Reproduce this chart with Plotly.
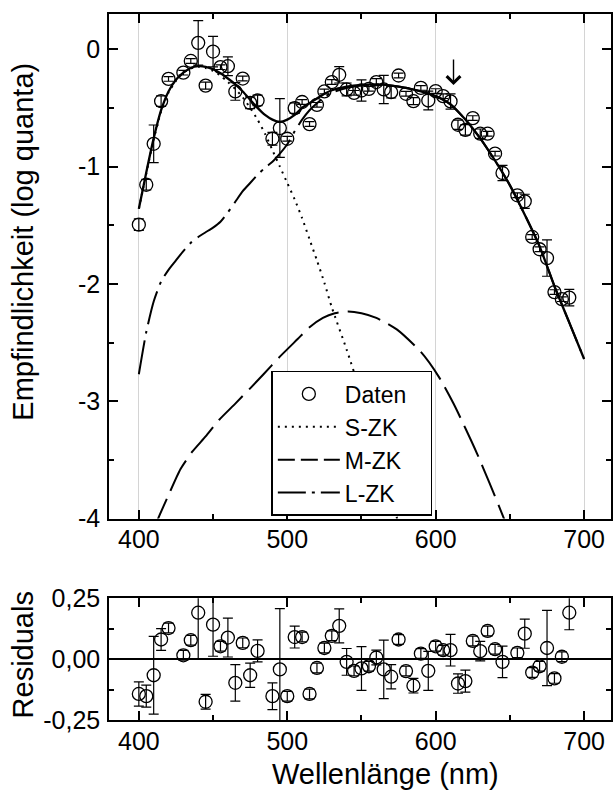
import plotly.graph_objects as go

# ---------------- data ----------------
wl = [400, 405, 410, 415, 420, 430, 435, 440, 445, 450, 455, 460, 465, 470, 475, 480,
      490, 495, 500, 505, 510, 515, 520, 525, 530, 535, 540, 545, 550, 555, 560, 565,
      570, 575, 580, 585, 590, 595, 600, 605, 610, 615, 620, 625, 630, 635, 640, 645,
      655, 660, 665, 670, 675, 680, 685, 690]

sens = [-1.495, -1.155, -0.806, -0.443, -0.253, -0.20, -0.10, 0.054, -0.31, -0.02,
        -0.153, -0.145, -0.36, -0.25, -0.457, -0.437, -0.763, -0.672, -0.763, -0.502,
        -0.45, -0.638, -0.474, -0.36, -0.28, -0.218, -0.343, -0.372, -0.352, -0.338,
        -0.28, -0.343, -0.366, -0.224, -0.38, -0.443, -0.33, -0.437, -0.357, -0.40,
        -0.445, -0.644, -0.687, -0.587, -0.72, -0.72, -0.89, -1.055, -1.245, -1.296,
        -1.60, -1.705, -1.78, -2.07, -2.13, -2.117]

resid = [-0.143, -0.152, -0.066, 0.081, 0.128, 0.016, 0.078, 0.191, -0.175, 0.142,
         0.053, 0.089, -0.097, 0.067, -0.066, 0.034, -0.152, -0.042, -0.152, 0.091,
         0.091, -0.143, -0.036, 0.046, 0.096, 0.137, -0.011, -0.048, -0.038, -0.029,
         0.007, -0.042, -0.072, 0.081, -0.049, -0.109, 0.023, -0.048, 0.053, 0.037,
         0.037, -0.10, -0.09, 0.075, 0.033, 0.116, 0.041, -0.011, 0.026, 0.105,
         -0.055, -0.029, 0.046, -0.079, 0.010, 0.191]

err = [0.05, 0.045, 0.16, 0.045, 0.02, 0.02, 0.02, 0.19, 0.03, 0.13, 0.02, 0.08,
       0.075, 0.02, 0.05, 0.045, 0.055, 0.25, 0.02, 0.045, 0.02, 0.02, 0.02, 0.02,
       0.02, 0.07, 0.055, 0.02, 0.09, 0.02, 0.03, 0.12, 0.05, 0.02, 0.02, 0.03,
       0.02, 0.08, 0.02, 0.02, 0.065, 0.04, 0.045, 0.02, 0.04, 0.02, 0.02, 0.065,
       0.02, 0.06, 0.02, 0.02, 0.155, 0.02, 0.02, 0.07]

# total fit (solid)
fit_x = [400, 405, 410, 415, 420, 425, 430, 435, 440, 445, 450, 455, 460, 465, 470, 475,
         480, 485, 490, 495, 500, 505, 510, 515, 520, 525, 530, 540, 550, 560, 570, 580,
         590, 600, 610, 620, 630, 640, 650, 660, 670, 680, 690, 700]
fit_y = [-1.36, -1.05, -0.76, -0.52, -0.36, -0.26, -0.20, -0.16, -0.145, -0.15, -0.17,
         -0.205, -0.25, -0.30, -0.36, -0.43, -0.50, -0.56, -0.60, -0.62, -0.60, -0.56,
         -0.50, -0.46, -0.42, -0.38, -0.35, -0.32, -0.305, -0.30, -0.31, -0.33, -0.36,
         -0.40, -0.47, -0.60, -0.76, -0.95, -1.16, -1.41, -1.68, -2.02, -2.33, -2.64]

# S-cone component (dotted)
s_x = [400, 405, 410, 415, 420, 425, 430, 435, 440, 445, 450, 455, 460, 465, 470, 475,
       480, 485, 490, 495, 500, 505, 510, 515, 520, 525, 530, 540, 550, 560, 574, 578]
s_y = [-1.36, -1.06, -0.77, -0.53, -0.37, -0.27, -0.20, -0.165, -0.15, -0.16, -0.185,
       -0.225, -0.28, -0.34, -0.41, -0.50, -0.60, -0.72, -0.86, -1.00, -1.14, -1.28,
       -1.44, -1.62, -1.80, -1.99, -2.20, -2.56, -2.95, -3.40, -4.00, -4.15]

# M-cone component (dashed)
m_x = [410, 413, 420, 428, 436, 445, 454, 465, 475, 484, 495, 507, 515, 524, 532, 541,
       550, 560, 574, 590, 602, 612, 620, 628, 636, 646, 649]
m_y = [-4.10, -4.00, -3.80, -3.58, -3.43, -3.30, -3.16, -3.02, -2.89, -2.77, -2.62,
       -2.47, -2.37, -2.29, -2.25, -2.235, -2.25, -2.29, -2.39, -2.58, -2.79, -3.02,
       -3.23, -3.45, -3.69, -4.00, -4.10]

# L-cone component (dash-dot)
l_x = [400, 405, 410, 415, 420, 425, 430, 435, 440, 445, 450, 455, 460, 465, 470, 475,
       480, 485, 490, 495, 500, 505, 510, 515, 520, 525, 530, 540, 550, 560, 570, 580,
       590, 600, 610, 620, 630, 640, 650, 660, 670, 680, 690, 700]
l_y = [-2.77, -2.41, -2.15, -1.98, -1.88, -1.80, -1.72, -1.65, -1.60, -1.56, -1.52,
       -1.47, -1.39, -1.30, -1.21, -1.14, -1.07, -1.01, -0.96, -0.89, -0.81, -0.70,
       -0.60, -0.52, -0.46, -0.41, -0.37, -0.33, -0.31, -0.30, -0.31, -0.33, -0.36,
       -0.40, -0.47, -0.60, -0.76, -0.95, -1.16, -1.41, -1.68, -2.02, -2.33, -2.64]

arrow_x = 612      # wavelength marked by the arrow
arrow_y = -0.306   # arrow tip

x_tickvals = [400, 500, 600, 700]
x_ticktext = ["400", "500", "600", "700"]
y_tickvals = [0, -1, -2, -3, -4]
y_ticktext = ["0", "-1", "-2", "-3", "-4"]
r_tickvals = [-0.25, 0, 0.25]
r_ticktext = ["-0,25", "0,00", "0,25"]

legend_names = ["Daten", "S-ZK", "M-ZK", "L-ZK"]

FONT = "Liberation Sans, Arial, Helvetica, sans-serif"
PAD = "\u00a0\u00a0\u00a0"   # widens the legend box like the reference

# ---------------- figure ----------------
fig = go.Figure()

line_common = dict(color="black", width=2, shape="spline", smoothing=0.6)

fig.add_trace(go.Scatter(x=fit_x, y=fit_y, mode="lines", showlegend=False,
                         line=dict(line_common, width=2.3), hoverinfo="skip"))
fig.add_trace(go.Scatter(x=s_x, y=s_y, mode="lines", name=legend_names[1], legendrank=2,
                         line=dict(line_common, dash="2px,5px")))
fig.add_trace(go.Scatter(x=m_x, y=m_y, mode="lines", showlegend=False,
                         line=dict(line_common, dash="34px,9px")))
fig.add_trace(go.Scatter(x=l_x, y=l_y, mode="lines", showlegend=False,
                         line=dict(line_common, dash="34px,7px,3px,7px")))

marker_style = dict(symbol="circle-open", size=13, color="black", line=dict(width=1.3))
err_style = dict(thickness=1.2, width=5, color="black")

fig.add_trace(go.Scatter(x=wl, y=sens, mode="markers", name=legend_names[0] + PAD,
                         legendrank=1, marker=marker_style,
                         error_y=dict(type="data", array=err, visible=True, **err_style)))

fig.add_trace(go.Scatter(x=wl, y=resid, mode="markers", showlegend=False,
                         xaxis="x2", yaxis="y2", marker=marker_style,
                         error_y=dict(type="data", array=err, visible=True, **err_style)))

# legend-only samples with shorter dash patterns
fig.add_trace(go.Scatter(x=[None], y=[None], mode="lines", name=legend_names[2], legendrank=3,
                         line=dict(color="black", width=2, dash="17px,6px")))
fig.add_trace(go.Scatter(x=[None], y=[None], mode="lines", name=legend_names[3], legendrank=4,
                         line=dict(color="black", width=2, dash="28px,6px,3px,6px")))

axis_common = dict(showline=True, linecolor="black", linewidth=1.5, mirror="ticks",
                   ticks="inside", tickcolor="black", tickwidth=1.5, ticklen=9,
                   tickfont=dict(family=FONT, size=25, color="black"), zeroline=False)

fig.update_layout(
    width=613, height=791, autosize=False,
    margin=dict(l=109, r=0, t=12, b=71),
    paper_bgcolor="white", plot_bgcolor="white",
    font=dict(family=FONT, color="black"),
    xaxis=dict(axis_common, anchor="y", range=[379.9, 718.1], tickmode="array",
               tickvals=x_tickvals, ticktext=x_ticktext, showgrid=True,
               gridcolor="#d4d4d4", gridwidth=1, ticklabelstandoff=-2,
               minor=dict(ticks="inside", ticklen=5, tickwidth=1.5, tickcolor="black",
                          dtick=50, tick0=400, showgrid=False)),
    yaxis=dict(axis_common, anchor="x", domain=[0.2853, 1.0], range=[-4.0, 0.3],
               tickmode="array", tickvals=y_tickvals, ticktext=y_ticktext,
               showgrid=False, ticklabelstandoff=2,
               minor=dict(ticks="inside", ticklen=5, tickwidth=1.5, tickcolor="black",
                          dtick=0.5, tick0=0, showgrid=False)),
    xaxis2=dict(axis_common, anchor="y2", range=[379.9, 718.1], tickmode="array",
                tickvals=x_tickvals, ticktext=x_ticktext, showgrid=False,
                ticklabelstandoff=-2,
                minor=dict(ticks="inside", ticklen=5, tickwidth=1.5, tickcolor="black",
                           dtick=50, tick0=400, showgrid=False)),
    yaxis2=dict(axis_common, anchor="x2", domain=[0.0, 0.1723], range=[-0.25, 0.25],
                tickmode="array", tickvals=r_tickvals, ticktext=r_ticktext,
                showgrid=False, zeroline=True, zerolinecolor="black", zerolinewidth=1.5,
                ticklabelstandoff=2,
                minor=dict(ticks="inside", ticklen=5, tickwidth=1.5, tickcolor="black",
                           tickvals=[-0.125, 0.125], showgrid=False)),
    legend=dict(x=0.3234, y=0.4944, xanchor="left", yanchor="top",
                bordercolor="black", borderwidth=1.5, bgcolor="white",
                font=dict(family=FONT, size=23, color="black"),
                itemwidth=62, tracegroupgap=0),
    showlegend=True,
)

fig.add_annotation(text="", x=arrow_x, y=arrow_y, xref="x", yref="y", showarrow=True,
                   ax=0, ay=-27, arrowhead=4, arrowsize=1.9, arrowwidth=1.4,
                   arrowcolor="black", standoff=0)

fig.add_annotation(text="Empfindlichkeit (log quanta)", xref="paper", yref="paper",
                   x=-0.1706, y=0.678, textangle=-90, showarrow=False,
                   xanchor="center", yanchor="middle",
                   font=dict(family=FONT, size=29, color="black"))
fig.add_annotation(text="Residuals", xref="paper", yref="paper",
                   x=-0.1706, y=0.092, textangle=-90, showarrow=False,
                   xanchor="center", yanchor="middle",
                   font=dict(family=FONT, size=29, color="black"))
fig.add_annotation(text="Wellenlänge (nm)", xref="paper", yref="paper",
                   x=0.5516, y=-0.0763, showarrow=False,
                   xanchor="center", yanchor="middle",
                   font=dict(family=FONT, size=29, color="black"))

fig.write_html("out.html")
